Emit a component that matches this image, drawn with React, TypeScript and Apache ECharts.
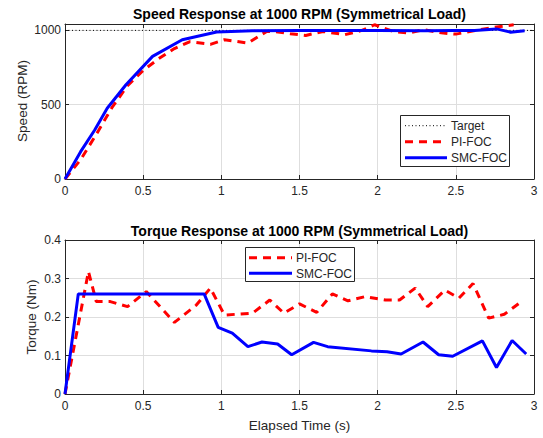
import React, { useEffect, useRef } from "react";
import * as echarts from "echarts";

// ---- Data ----
const targetSpeed: number[][] = [[0, 1000], [3, 1000]];
const piSpeed: number[][] = [
  [0, 0], [0.1, 130], [0.2, 300], [0.3, 480], [0.4, 628], [0.5, 730], [0.6, 810],
  [0.7, 878], [0.8, 924], [0.93, 906], [1.02, 937], [1.17, 915], [1.29, 993],
  [1.35, 990], [1.44, 978], [1.54, 966], [1.65, 993], [1.79, 971], [1.9, 1000],
  [1.98, 1038], [2.1, 993], [2.2, 982], [2.29, 1005], [2.42, 982], [2.5, 975],
  [2.63, 1000], [2.74, 1020], [2.87, 1038],
];
const smcSpeed: number[][] = [
  [0, 0], [0.1, 184], [0.19, 330], [0.27, 476], [0.39, 634], [0.56, 825],
  [0.75, 937], [0.97, 989], [1.2, 997], [1.5, 999], [2.0, 1000], [2.3, 998],
  [2.5, 1000], [2.62, 1000], [2.76, 1010], [2.85, 988], [2.94, 998],
];
const piTorque: number[][] = [
  [0, 0], [0.15, 0.318], [0.2, 0.24], [0.29, 0.24], [0.4, 0.227], [0.52, 0.266],
  [0.7, 0.186], [0.84, 0.231], [0.93, 0.275], [1.02, 0.205], [1.2, 0.21],
  [1.31, 0.244], [1.4, 0.21], [1.5, 0.234], [1.61, 0.212], [1.71, 0.26],
  [1.81, 0.242], [1.92, 0.253], [2.05, 0.244], [2.14, 0.244], [2.24, 0.275],
  [2.32, 0.227], [2.43, 0.27], [2.52, 0.249], [2.61, 0.287], [2.71, 0.197],
  [2.81, 0.207], [2.92, 0.24],
];
const smcTorque: number[][] = [
  [0, 0], [0.085, 0.26], [0.89, 0.26], [0.98, 0.173], [1.07, 0.158], [1.17, 0.123],
  [1.26, 0.135], [1.36, 0.13], [1.45, 0.102], [1.59, 0.134], [1.68, 0.123],
  [1.96, 0.112], [2.06, 0.11], [2.15, 0.104], [2.29, 0.135], [2.39, 0.102],
  [2.48, 0.098], [2.67, 0.138], [2.76, 0.069], [2.86, 0.139], [2.95, 0.104],
];
const seriesNames = ["Target", "PI-FOC", "SMC-FOC"];
const titles = [
  "Speed Response at 1000 RPM (Symmetrical Load)",
  "Torque Response at 1000 RPM (Symmetrical Load)",
];
const axisNames = ["Speed (RPM)", "Torque (Nm)", "Elapsed Time (s)"];

const FONT = "'Liberation Sans', Arial, Helvetica, sans-serif";
const AX = "#262626";
const GRIDC = "#dedede";
const RED = "#ff0000";
const BLUE = "#0000ff";

export default function App() {
  const ref = useRef<HTMLDivElement>(null);
  useEffect(() => {
    if (!ref.current) return;
    const chart = echarts.init(ref.current, undefined, { renderer: "svg" });

    const G0 = { left: 65, top: 24, width: 469, height: 155 };
    const G1 = { left: 65, top: 240, width: 469, height: 154 };

    const mkX = (gi: number, pos: "bottom" | "top", labels: boolean) => ({
      type: "value",
      gridIndex: gi,
      position: pos,
      min: 0,
      max: 3,
      interval: 0.5,
      axisLine: { show: true, onZero: false, lineStyle: { color: AX, width: 1 } },
      axisTick: { show: true, inside: true, length: 4, lineStyle: { color: AX } },
      axisLabel: {
        show: labels,
        color: AX,
        fontSize: 12,
        fontFamily: FONT,
        margin: 6,
      },
      splitLine: { show: labels, lineStyle: { color: GRIDC, width: 1 } },
    });
    const mkY = (
      gi: number,
      pos: "left" | "right",
      labels: boolean,
      max: number,
      interval: number,
      fmt?: (v: number) => string
    ) => ({
      type: "value",
      gridIndex: gi,
      position: pos,
      min: 0,
      max,
      interval,
      axisLine: { show: true, onZero: false, lineStyle: { color: AX, width: 1 } },
      axisTick: { show: true, inside: true, length: 4, lineStyle: { color: AX } },
      axisLabel: {
        show: labels,
        color: AX,
        fontSize: 12,
        fontFamily: FONT,
        margin: 4,
        formatter: fmt,
      },
      splitLine: { show: labels, lineStyle: { color: GRIDC, width: 1 } },
    });

    const legendText = (x: number, y: number, t: string) => ({
      type: "text",
      x,
      y,
      style: {
        text: t,
        fill: AX,
        font: `12px ${FONT}`,
        textAlign: "left",
        textVerticalAlign: "middle",
      },
      z: 101,
    });
    const legendLine = (
      x1: number,
      x2: number,
      y: number,
      color: string,
      w: number,
      dash?: number[]
    ) => ({
      type: "line",
      shape: { x1, y1: y, x2, y2: y },
      style: { stroke: color, lineWidth: w, lineDash: dash },
      z: 101,
    });

    chart.setOption({
      animation: false,
      backgroundColor: "#ffffff",
      grid: [
        { ...G0, containLabel: false },
        { ...G1, containLabel: false },
      ],
      xAxis: [
        mkX(0, "bottom", true),
        mkX(0, "top", false),
        mkX(1, "bottom", true),
        mkX(1, "top", false),
      ],
      yAxis: [
        mkY(0, "left", true, 1043, 500, (v: number) => (v % 500 === 0 ? String(v) : "")),
        mkY(0, "right", false, 1043, 500),
        mkY(1, "left", true, 0.4, 0.1),
        mkY(1, "right", false, 0.4, 0.1),
      ],
      series: [
        {
          name: seriesNames[0],
          type: "line",
          xAxisIndex: 0,
          yAxisIndex: 0,
          data: targetSpeed,
          showSymbol: false,
          symbol: "none",
          lineStyle: { color: "#000000", width: 1, type: [1, 2.5] },
        },
        {
          name: seriesNames[1],
          type: "line",
          xAxisIndex: 0,
          yAxisIndex: 0,
          data: piSpeed,
          symbol: "none",
          lineStyle: { color: RED, width: 3, type: [8, 6] },
        },
        {
          name: seriesNames[2],
          type: "line",
          xAxisIndex: 0,
          yAxisIndex: 0,
          data: smcSpeed,
          symbol: "none",
          lineStyle: { color: BLUE, width: 3 },
        },
        {
          name: seriesNames[1],
          type: "line",
          xAxisIndex: 2,
          yAxisIndex: 2,
          data: piTorque,
          symbol: "none",
          lineStyle: { color: RED, width: 3, type: [8, 6] },
        },
        {
          name: seriesNames[2],
          type: "line",
          xAxisIndex: 2,
          yAxisIndex: 2,
          data: smcTorque,
          symbol: "none",
          lineStyle: { color: BLUE, width: 3 },
        },
      ],
      graphic: [
        {
          type: "text",
          x: 299.5,
          y: 14,
          style: {
            text: titles[0],
            fill: "#000000",
            font: `bold 14px ${FONT}`,
            textAlign: "center",
            textVerticalAlign: "middle",
          },
        },
        {
          type: "text",
          x: 299.5,
          y: 231,
          style: {
            text: titles[1],
            fill: "#000000",
            font: `bold 14px ${FONT}`,
            textAlign: "center",
            textVerticalAlign: "middle",
          },
        },
        {
          type: "text",
          x: 22,
          y: 101,
          rotation: Math.PI / 2,
          style: {
            text: axisNames[0],
            fill: AX,
            font: `13.5px ${FONT}`,
            textAlign: "center",
            textVerticalAlign: "middle",
          },
        },
        {
          type: "text",
          x: 31,
          y: 317,
          rotation: Math.PI / 2,
          style: {
            text: axisNames[1],
            fill: AX,
            font: `13.5px ${FONT}`,
            textAlign: "center",
            textVerticalAlign: "middle",
          },
        },
        {
          type: "text",
          x: 299.5,
          y: 425,
          style: {
            text: axisNames[2],
            fill: AX,
            font: `13.5px ${FONT}`,
            textAlign: "center",
            textVerticalAlign: "middle",
          },
        },
        // Top legend
        {
          type: "rect",
          shape: { x: 400.5, y: 115.5, width: 109, height: 51 },
          style: { fill: "#ffffff", stroke: AX, lineWidth: 1 },
          z: 100,
        },
        legendLine(405, 447, 125.7, "#000000", 1, [1, 2.5]),
        legendLine(405, 447, 141.7, RED, 3, [8, 6]),
        legendLine(405, 447, 157.7, BLUE, 3),
        legendText(451, 126, seriesNames[0]),
        legendText(451, 142, seriesNames[1]),
        legendText(451, 158, seriesNames[2]),
        // Bottom legend
        {
          type: "rect",
          shape: { x: 245.5, y: 247.5, width: 109, height: 34 },
          style: { fill: "#ffffff", stroke: AX, lineWidth: 1 },
          z: 100,
        },
        legendLine(249, 292, 257.7, RED, 3, [8, 6]),
        legendLine(249, 292, 273.3, BLUE, 3),
        legendText(296, 258, seriesNames[1]),
        legendText(296, 274, seriesNames[2]),
      ],
    });
    return () => chart.dispose();
  }, []);
  return (
    <div
      ref={ref}
      style={{ position: "fixed", left: 0, top: 0, width: 543, height: 438, background: "#fff" }}
    />
  );
}
